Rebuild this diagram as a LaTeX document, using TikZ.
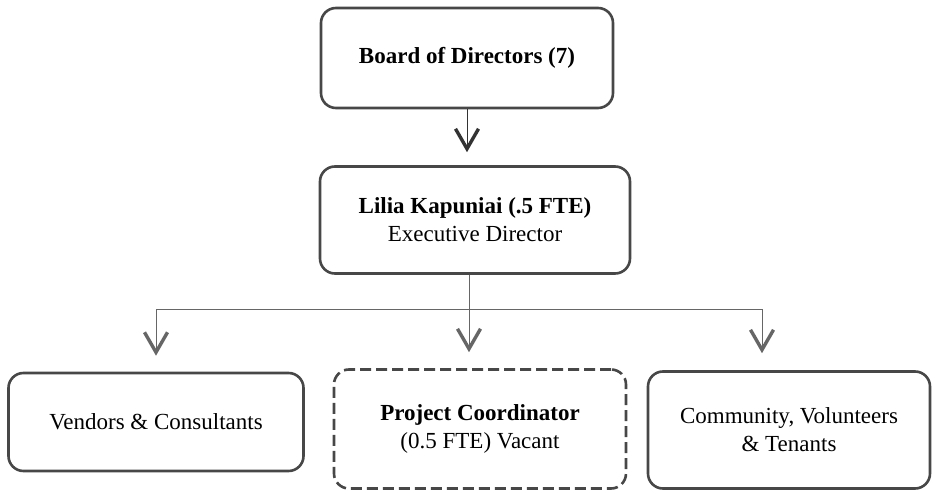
\documentclass[tikz,border=0pt]{standalone}
\usepackage{fontspec}
\setmainfont{Liberation Serif}
\usetikzlibrary{positioning, arrows.meta}

\begin{document}
\begin{tikzpicture}[x=1pt, y=1pt]

    % Define styles
    \tikzset{
        unit/.style = {rectangle, rounded corners=15pt, line width=2.6pt, draw=black!72, text centered, align=center, font=\fontsize{23}{28}\selectfont},
        vacant/.style = {unit, dash pattern=on 11pt off 5pt},
        link/.style = {line width=0.9pt, draw=black!60},
        arrow/.style = {link, -{Straight Barb[length=20pt, width=23pt, line width=3.4pt]}}
    }

    \useasboundingbox (0,0) rectangle (935,-494);

    % Nodes
    \node (board) [unit, minimum width=292pt, minimum height=100pt] at (467,-58) {\textbf{Board of Directors (7)}};
    \node (exec) [unit, minimum width=310pt, minimum height=107pt, below of=board, node distance=162pt, xshift=8pt] {\textbf{Lilia Kapuniai (.5 FTE)}\\Executive Director};
    \node (coord) [vacant, minimum width=292pt, minimum height=119pt, below of=exec, node distance=209pt, xshift=5pt] {\textbf{Project Coordinator}\\(0.5 FTE) Vacant};
    \node (vendors) [unit, minimum width=295pt, minimum height=98pt, left of=coord, node distance=324pt, yshift=7pt] {Vendors \& Consultants};
    \node (comm) [unit, minimum width=282pt, minimum height=117pt, right of=coord, node distance=309pt, yshift=-1pt] {Community, Volunteers\\\& Tenants};

    \coordinate (fork) at ([xshift=-6pt, yshift=-35pt]exec.south);

    % Arrows
    \draw [arrow, draw=black!80, shorten >=13pt] (board.south) -- (board.south |- exec.north);
    \draw [link] (fork |- exec.south) -- (fork);
    \draw [arrow, shorten >=16pt] (fork) -| (vendors.north);
    \draw [arrow, shorten >=16pt] (fork) -- (fork |- coord.north);
    \draw [arrow, shorten >=17pt] (fork) -| ([xshift=-27pt]comm.north);
\end{tikzpicture}
\end{document}
